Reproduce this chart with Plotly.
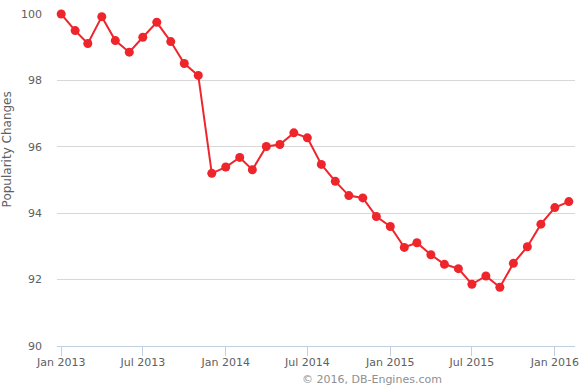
import plotly.graph_objects as go
import pandas as pd

months = pd.date_range("2013-01-01", "2016-02-01", freq="MS")
values = [100.0, 99.50, 99.11, 99.92, 99.20, 98.85, 99.30, 99.75, 99.17, 98.51, 98.15, 95.20,
          95.39, 95.68, 95.31, 96.01, 96.07, 96.42, 96.27, 95.47, 94.96, 94.53, 94.46, 93.90,
          93.60, 92.97, 93.11, 92.75, 92.46, 92.33, 91.86, 92.11, 91.77, 92.49, 92.99, 93.67,
          94.17, 94.35]
x_tickvals = ["2013-01-01", "2013-07-01", "2014-01-01", "2014-07-01", "2015-01-01", "2015-07-01", "2016-01-01"]
x_ticktext = ["Jan 2013", "Jul 2013", "Jan 2014", "Jul 2014", "Jan 2015", "Jul 2015", "Jan 2016"]
y_tickvals = [90, 92, 94, 96, 98, 100]

font = "DejaVu Sans"
fig = go.Figure()
fig.add_trace(go.Scatter(
    x=months, y=values, mode="lines+markers",
    line=dict(color="#EE262C", width=2),
    marker=dict(color="#EE262C", size=9),
    cliponaxis=False,
    showlegend=False,
))
fig.update_layout(
    width=587, height=386,
    margin=dict(l=57, r=8, t=12, b=40),
    paper_bgcolor="white", plot_bgcolor="white",
    font=dict(family=font, size=11, color="#606060"),
    xaxis=dict(
        range=["2012-12-22 16:00", "2016-02-14 16:00"],
        tickvals=x_tickvals, ticktext=x_ticktext,
        showgrid=False, showline=True, linecolor="#C0D0E0", linewidth=1,
        ticks="outside", ticklen=9, tickcolor="#C0D0E0", tickwidth=1,
        ticklabelstandoff=-3,
        tickfont=dict(family=font, size=11, color="#606060"),
        zeroline=False,
    ),
    yaxis=dict(
        range=[90, 100], tickvals=y_tickvals,
        showgrid=True, gridcolor="#D8D8D8", gridwidth=1,
        showline=False, zeroline=False, ticks="",
        ticklabelstandoff=14,
        tickfont=dict(family=font, size=11, color="#606060"),
    ),
    annotations=[
        dict(text="Popularity Changes", textangle=-90, xref="paper", yref="paper",
             x=-0.096, y=0.593, xanchor="center", yanchor="middle", showarrow=False,
             font=dict(family=font, size=12, color="#606060")),
        dict(text="© 2016, DB-Engines.com", xref="paper", yref="paper",
             x=(447 - 57) / 522, y=-(379 - 345.5) / 333.5, xanchor="right", yanchor="middle",
             showarrow=False, font=dict(family=font, size=11, color="#909090")),
    ],
)
fig.write_html("out.html")
